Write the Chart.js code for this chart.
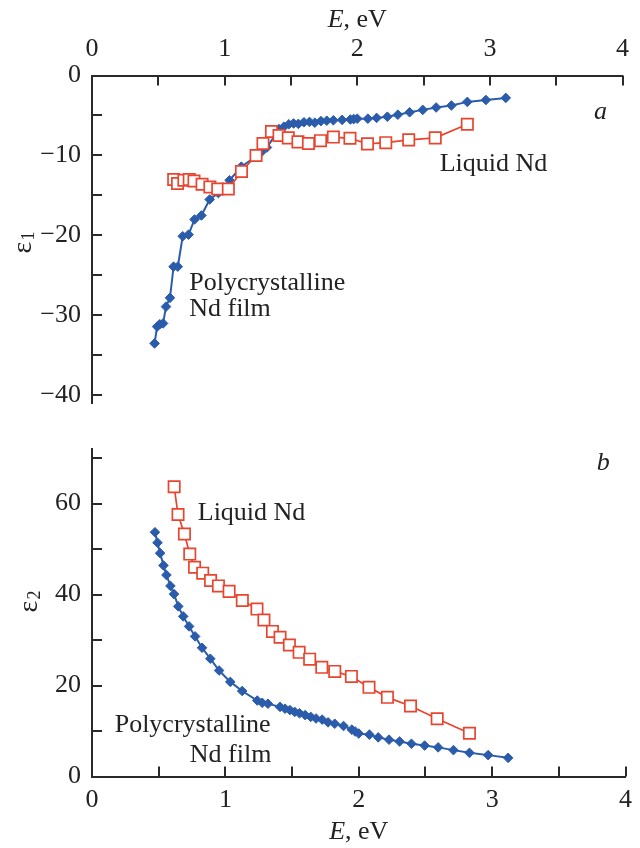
<!DOCTYPE html>
<html><head><meta charset="utf-8">
<script src="https://cdn.jsdelivr.net/npm/chart.js@4.4.1/dist/chart.umd.min.js"></script>
<style>
html,body{margin:0;padding:0;background:#fff;}
#wrap{position:relative;width:640px;height:848px;overflow:hidden;}
#c1{position:absolute;left:0;top:0;}
#c2{position:absolute;left:0;top:420px;}
</style></head><body>
<div id="wrap"><canvas id="c1" width="640" height="430"></canvas><canvas id="c2" width="640" height="428"></canvas></div>
<script>
// ---- data ----
const polyE = [0.472,0.491,0.511,0.536,0.558,0.588,0.615,0.647,0.684,0.728,0.773,0.825,0.887,0.953,1.037,1.126,1.239,1.276,1.319,1.41,1.447,1.484,1.52,1.556,1.598,1.64,1.68,1.726,1.77,1.82,1.886,1.948,1.973,2.0,2.08,2.146,2.227,2.306,2.395,2.494,2.595,2.71,2.83,2.97,3.12];
const polyEps1 = [-33.5,-31.4,-31.1,-31.0,-28.9,-27.8,-23.9,-23.9,-20.1,-19.9,-18.0,-17.5,-15.5,-14.7,-13.1,-11.4,-10.1,-9.6,-9.0,-6.7,-6.4,-6.1,-6.0,-6.05,-5.85,-5.8,-5.9,-5.7,-5.65,-5.6,-5.55,-5.5,-5.45,-5.4,-5.4,-5.3,-5.15,-4.9,-4.6,-4.3,-4.0,-3.75,-3.3,-3.06,-2.8];
const polyEps2 = [53.7,51.4,49.1,46.4,44.3,41.9,40.1,37.4,35.2,33.0,30.8,28.3,25.9,23.3,20.8,18.8,16.7,16.2,16.0,15.3,14.9,14.6,14.2,13.9,13.5,13.1,12.75,12.5,11.9,11.6,11.1,10.3,9.9,9.45,9.2,8.6,8.1,7.7,7.2,6.8,6.4,5.8,5.2,4.7,4.1];
const liquidE = [0.616,0.645,0.693,0.733,0.769,0.830,0.889,0.948,1.028,1.127,1.237,1.289,1.353,1.410,1.480,1.553,1.632,1.723,1.820,1.945,2.077,2.215,2.388,2.588,2.830];
const liquidEps1 = [-13.0,-13.5,-13.1,-13.0,-13.2,-13.6,-13.95,-14.2,-14.2,-12.0,-10.0,-8.5,-7.0,-7.5,-7.8,-8.3,-8.5,-8.15,-7.7,-7.85,-8.55,-8.4,-8.05,-7.8,-6.1];
const liquidEps2 = [63.7,57.6,53.3,48.9,46.0,44.7,43.1,41.9,40.7,38.7,36.8,34.4,31.9,30.6,28.9,27.3,25.8,24.0,23.1,22.0,19.6,17.4,15.5,12.7,9.5];
const xTicks = [0,1,2,3,4];
const eps1Ticks = [0,-10,-20,-30,-40];
const eps2Ticks = [0,20,40,60];
const seriesNames = ['Liquid Nd','Polycrystalline Nd film'];

// ---- style ----
const FONT = "'Liberation Serif','Times New Roman',serif";
const RED = '#e8442e', BLUE = '#2b5cab', AXIS = '#2a2a2a', TXT = '#222';
const pts = (xs, ys) => xs.map((x, i) => ({x, y: ys[i]}));
const fmt = v => (v < 0 ? '\u2212' + Math.abs(v) : String(v));

const decor = {
  id: 'decor',
  afterDraw(chart, args, o) {
    const ctx = chart.ctx, xs = chart.scales.x, ys = chart.scales.y, ca = chart.chartArea;
    ctx.save();
    ctx.strokeStyle = AXIS; ctx.lineWidth = 2;
    xs.ticks.forEach(t => {
      if (t.value <= 0) return;
      const px = Math.round(xs.getPixelForValue(t.value));
      ctx.beginPath();
      if (o.xTop) { ctx.moveTo(px, ca.top); ctx.lineTo(px, ca.top + 10); }
      else { ctx.moveTo(px, ca.bottom); ctx.lineTo(px, ca.bottom - 10); }
      ctx.stroke();
    });
    ys.ticks.forEach(t => {
      const py = Math.round(ys.getPixelForValue(t.value));
      ctx.beginPath(); ctx.moveTo(ca.left, py); ctx.lineTo(ca.left + 10, py); ctx.stroke();
    });
    ctx.fillStyle = TXT; ctx.textBaseline = 'alphabetic'; ctx.textAlign = 'left';
    o.notes.forEach(n => {
      ctx.font = (n.italic ? 'italic ' : '') + '26px ' + FONT;
      ctx.fillText(n.text, xs.getPixelForValue(n.x), ys.getPixelForValue(n.y));
    });
    // x-axis title: italic E + ", eV"
    ctx.font = 'italic 26px ' + FONT; const wE = ctx.measureText('E').width;
    ctx.font = '26px ' + FONT; const wR = ctx.measureText(', eV').width;
    const cx = xs.getPixelForValue(2) - (wE + wR) / 2;
    ctx.font = 'italic 26px ' + FONT; ctx.fillText('E', cx, o.titleY);
    ctx.font = '26px ' + FONT; ctx.fillText(', eV', cx + wE, o.titleY);
    // y-axis title: epsilon with subscript, rotated
    ctx.translate(o.epsX, o.epsY); ctx.rotate(-Math.PI / 2);
    ctx.font = '28px ' + FONT; const we = ctx.measureText('\u03b5').width;
    ctx.font = '18px ' + FONT; const ws = ctx.measureText(o.sub).width;
    const sx = -(we + ws) / 2;
    ctx.font = '28px ' + FONT; ctx.fillText('\u03b5', sx, 0);
    ctx.font = '18px ' + FONT; ctx.fillText(o.sub, sx + we + 1, 3);
    ctx.restore();
  }
};

function datasets(liqY, polyY) {
  return [
    {label: seriesNames[0], data: pts(liquidE, liqY), showLine: true, borderColor: RED, borderWidth: 1.7,
     pointStyle: 'rect', pointRadius: 8, pointBorderWidth: 1.7, pointBackgroundColor: '#fff', pointBorderColor: RED},
    {label: seriesNames[1], data: pts(polyE, polyY), showLine: true, borderColor: BLUE, borderWidth: 2,
     pointStyle: 'rectRot', pointRadius: 4.8, pointBorderWidth: 1, pointBackgroundColor: BLUE, pointBorderColor: BLUE}
  ];
}
const tickFont = {family: FONT, size: 26};
function xScale(top) {
  return {type: 'linear', position: top ? 'top' : 'bottom', min: 0, max: 4,
    afterFit: s => { s.height = top ? 75.5 : 71.5; },
    grid: {display: false, drawTicks: false}, border: {display: true, color: AXIS, width: 2},
    ticks: {stepSize: 0.5, autoSkip: false, maxRotation: 0, padding: top ? 11 : 8, color: TXT, font: tickFont,
      callback: v => xTicks.includes(v) ? String(v) : ''}};
}
function yScale(min, max, step, labels) {
  return {type: 'linear', min, max,
    afterFit: s => { s.width = 92; },
    grid: {display: false, drawTicks: false}, border: {display: true, color: AXIS, width: 2},
    ticks: {stepSize: step, includeBounds: false, padding: 11, color: TXT, font: tickFont,
      callback: v => labels.includes(v) ? fmt(v) : ''}};
}

new Chart(document.getElementById('c1'), {
  type: 'scatter',
  data: {datasets: datasets(liquidEps1, polyEps1)},
  options: {responsive: false, animation: false, devicePixelRatio: 1,
    layout: {padding: {left: 0, right: 8, top: 0, bottom: 15.4}},
    plugins: {legend: {display: false}, tooltip: {enabled: false},
      decor: {xTop: true, titleY: 27, epsX: 31, epsY: 243, sub: '1',
        notes: [{text: 'Liquid Nd', x: 2.622, y: -12.0}, {text: 'Polycrystalline', x: 0.733, y: -26.8},
                {text: 'Nd film', x: 0.733, y: -30.1}, {text: 'a', x: 3.785, y: -5.45, italic: true}]}},
    scales: {x: xScale(true), y: yScale(-41, 0, 5, eps1Ticks)}},
  plugins: [decor]
});
new Chart(document.getElementById('c2'), {
  type: 'scatter',
  data: {datasets: datasets(liquidEps2, polyEps2)},
  options: {responsive: false, animation: false, devicePixelRatio: 1,
    layout: {padding: {left: 0, right: 8, top: 29, bottom: 0}},
    plugins: {legend: {display: false}, tooltip: {enabled: false},
      decor: {xTop: false, titleY: 419, epsX: 37, epsY: 182, sub: '2',
        notes: [{text: 'Liquid Nd', x: 0.793, y: 56.4}, {text: 'Polycrystalline', x: 0.170, y: 9.8},
                {text: 'Nd film', x: 0.733, y: 3.2}, {text: 'b', x: 3.785, y: 67.4, italic: true}]}},
    scales: {x: xScale(false), y: yScale(0, 72, 10, eps2Ticks)}},
  plugins: [decor]
});
</script></body></html>
